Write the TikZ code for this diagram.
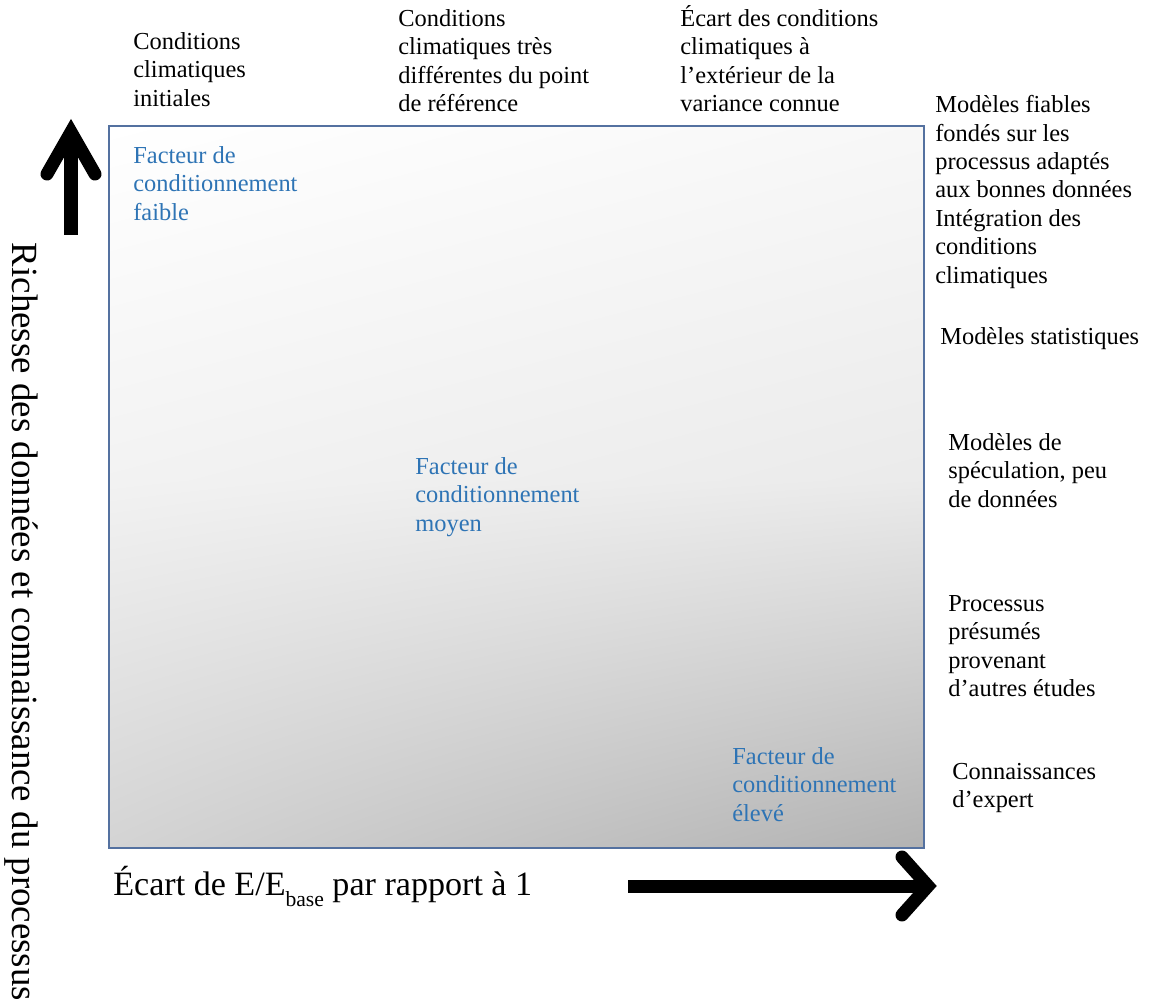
\documentclass[tikz,border=0pt]{standalone}
\usepackage{fontspec}
\setmainfont{Liberation Serif}
\usetikzlibrary{positioning, shadings}

\definecolor{frameblue}{RGB}{84,113,160}
\definecolor{factorblue}{RGB}{46,116,181}

\begin{document}
\begin{tikzpicture}[
      x=0.02cm, y=-0.02cm,
      note/.style={anchor=north west, inner sep=0pt, align=left, font=\fontsize{13.9}{16.2}\selectfont},
      factor/.style={note, text=factorblue},
      shaft/.style={line width=7.4pt},
      chevron/.style={line width=7.4pt, line cap=round, line join=miter}
    ]
    \useasboundingbox (0,0) rectangle (1154,1007);

    % plot area, light on top and darker towards the lower right
    \coordinate (tl) at (109,126);
    \coordinate (br) at (924,848);
    \shade[upper left=white, upper right=white!97!black,
      lower left=white!95!black, lower right=white!92!black] (109,126) rectangle (924,480);
    \shade[upper left=white!95!black, upper right=white!92!black,
      lower left=white!83!black, lower right=white!70!black] (109,480) rectangle (924,848);
    \draw[frameblue, line width=0.7pt] (tl) rectangle (br);

    % column headings
    \node[note] (initial) at (133,32) {Conditions\\climatiques\\initiales};
    \node[note] (different) at (398,9) {Conditions\\climatiques très\\différentes du point\\de référence};
    \node[note] (outside) at (680,5) {Écart des conditions\\climatiques à\\l’extérieur de la\\variance connue};

    % row headings
    \node[note] (reliable) at (935,95) {Modèles fiables\\fondés sur les\\processus adaptés\\aux bonnes données\\Intégration des\\conditions\\climatiques};
    \node[note] (stats) at (940,327) {Modèles statistiques};
    \node[note] (speculation) at (948,433) {Modèles de\\spéculation, peu\\de données};
    \node[note] (assumed) at (948,595) {Processus\\présumés\\provenant\\d’autres études};
    \node[note] (expert) at (952,763) {Connaissances\\d’expert};

    % conditioning factor inside the plot
    \node[factor] (low) at (133,146) {Facteur de\\conditionnement\\faible};
    \node[factor] (mid) at (415,457) {Facteur de\\conditionnement\\moyen};
    \node[factor] (high) at (732,747) {Facteur de\\conditionnement\\élevé};

    % axes
    \node[anchor=base west, inner sep=0pt, font=\fontsize{19.4}{22}\selectfont] (xlabel) at (113,895)
      {Écart de E/E\raisebox{-6.8pt}{\fontsize{12.3}{14}\selectfont base} par rapport à 1};
    \node[rotate=-90, inner sep=0pt, font=\fontsize{21}{24}\selectfont] (ylabel) at (21,622)
      {Richesse des données et connaissance du processus};

    \coordinate (ybot) at (71,235);
    \coordinate (ytop) at (71,136);
    \coordinate (ytip) at (71,132);
    \draw[shaft] (ybot) -- (ytop);
    \draw[chevron] (47,174) -- (ytip) -- (95,174);

    \coordinate (xleft) at (628,886);
    \coordinate (xright) at (924,886);
    \coordinate (xtip) at (928,886);
    \draw[shaft] (xleft) -- (xright);
    \draw[chevron] (902,857) -- (xtip) -- (902,915);
  \end{tikzpicture}
\end{document}
